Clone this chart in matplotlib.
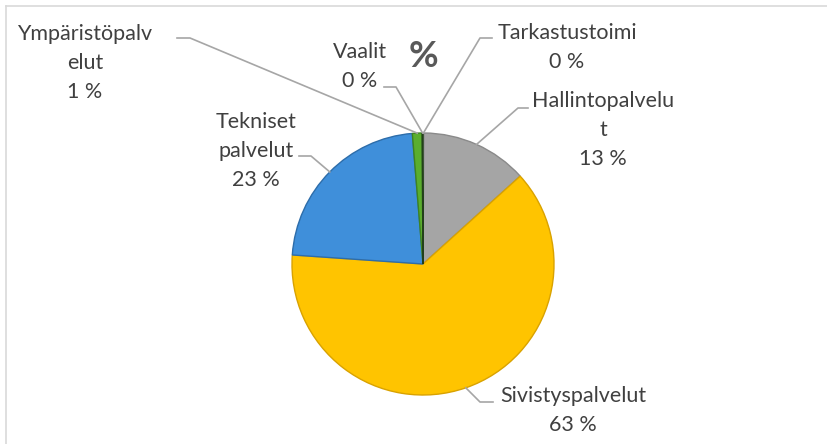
import matplotlib
matplotlib.use("Agg")
import matplotlib.pyplot as plt
import numpy as np

# data (share of budget, %)
names = ["Tarkastustoimi", "Hallintopalvelu\nt", "Sivistyspalvelut",
         "Tekniset\npalvelut", "Ympäristöpalv\nelut", "Vaalit"]
values = [0.1, 13.2, 62.8, 22.6, 1.2, 0.1]
pct_labels = ["0 %", "13 %", "63 %", "23 %", "1 %", "0 %"]
colors = ["#4A4A4A", "#A5A5A5", "#FFC400", "#3F8FDA", "#5AAE2E", "#2F5A1E"]
edge_colors = ["#333333", "#8A8A8A", "#D9A200", "#2D6DAA", "#3E8420", "#22401A"]

# layout in image pixels (y down)
W, H = 827, 444
cx, cy, r = 423, 264, 131
label_pos = [(567, 39), (603, 107), (573, 402), (256, 128), (85, 40), (360, 58)]
leader_pts = [[(492, 38), (480, 38)],
              [(528, 108), (518, 108)],
              [(493, 402), (480, 402)],
              [(299, 156), (311, 156)],
              [(177, 38), (190, 38)],
              [(384, 87), (396, 87)]]
line_step = 29

plt.rcParams['font.family'] = ['Lato', 'DejaVu Sans']
fig = plt.figure(figsize=(W / 100, H / 100), dpi=100)
ax = fig.add_axes([0, 0, 1, 1])

wedges, _ = ax.pie(values, colors=colors, startangle=270, counterclock=True,
                   center=(cx, cy), radius=r,
                   wedgeprops=dict(linewidth=1.0))
for w, ec in zip(wedges, edge_colors):
    w.set_edgecolor(ec)

ax.set_xlim(0, W)
ax.set_ylim(H, 0)
ax.set_aspect('equal')
ax.axis('off')

# chart frame
ax.plot([6, W], [6, 6], color="#D9D9D9", lw=1.2)
ax.plot([6, 6], [6, H], color="#D9D9D9", lw=1.2)

# labels with leader lines
frac = np.array(values) / np.sum(values)
mids = (np.cumsum(frac) - frac / 2) * 2 * np.pi
for i, name in enumerate(names):
    ax_x = cx + r * np.sin(mids[i])
    ax_y = cy - r * np.cos(mids[i])
    pts = leader_pts[i] + [(ax_x, ax_y)]
    ax.plot([p[0] for p in pts], [p[1] for p in pts], color="#A6A6A6", lw=1.2)
    lines = name.split("\n") + [pct_labels[i]]
    x0, y0 = label_pos[i]
    for j, txt in enumerate(lines):
        ax.text(x0, y0 + j * line_step, txt, ha='center', va='baseline',
                fontsize=15.5, color="#404040")

ax.text(423, 67, "%", ha='center', va='baseline', fontsize=26,
        fontweight='bold', color="#595959")

fig.savefig("out.png", dpi=100)
